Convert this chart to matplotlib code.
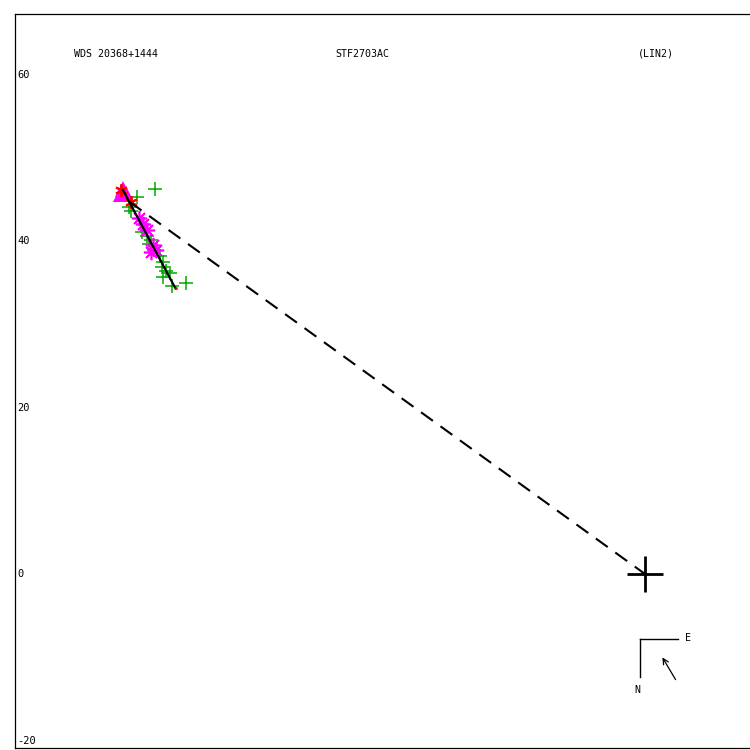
import matplotlib

matplotlib.use("Agg")
import matplotlib.pyplot as plt

plt.rcParams.update({"font.family": "DejaVu Sans Mono", "font.size": 7.2})

# measured positions (arcsec) relative to primary
green_x = [-58.9, -61.0, -62.0, -61.7, -60.4, -59.8, -59.3, -59.6, -59.0, -58.3,
           -57.9, -58.0, -57.5, -57.1, -57.9, -55.1, -56.8]
green_y = [46.3, 45.3, 44.1, 43.6, 41.1, 40.6, 40.1, 39.6, 38.9, 38.2,
           37.5, 36.9, 36.4, 36.2, 35.7, 35.0, 34.6]
star_x = [-60.8, -60.3, -59.8, -59.1, -58.7, -59.3]
star_y = [42.8, 42.0, 41.3, 39.5, 38.9, 38.7]
tri_x = [-62.7, -62.3, -62.9]
tri_y = [46.2, 45.6, 45.6]
red_x = [-62.9, -61.7]
red_y = [46.1, 44.7]
fit_x = [-62.7, -56.4]
fit_y = [46.1, 34.3]
now_x, now_y = -61.9, 44.7
yticks = [60, 40, 20, 0, -20]

fig = plt.figure(figsize=(7.5, 7.5), dpi=100)
ax = fig.add_axes([15 / 750, 2 / 750, 735 / 750, 734 / 750])
ax.set_xlim(-75.68, 12.61)
ax.set_ylim(-20.9, 67.27)
ax.spines["right"].set_visible(False)
for s in ax.spines.values():
    s.set_linewidth(0.9)
ax.set_xticks([])
ax.set_yticks([])

# tick labels drawn inside the frame
for v in yticks:
    ax.text(0.003, v, str(v), transform=ax.get_yaxis_transform(),
            ha="left", va="center", fontsize=7.5)

ax.plot(green_x, green_y, "+", color="#00a800", ms=10, mew=1.1, zorder=2)
ax.plot(star_x, star_y, ls="none", marker=(8, 2, 0), color="#ff00ff",
        ms=11, mew=1.2, zorder=3)
ax.plot(tri_x, tri_y, "^", color="#ff00ff", ms=11, mew=0, zorder=3)
ax.plot(red_x, red_y, ls="none", marker=(6, 2, 0), color="red",
        ms=9, mew=1.4, zorder=4)
ax.plot(fit_x, fit_y, "-", color="black", lw=1.6, zorder=5)
ax.plot(fit_x[-1:], fit_y[-1:], ".", color="red", ms=2, zorder=6)
ax.plot([now_x, 0], [now_y, 0], color="black", lw=1.5, dashes=(7, 4.5), zorder=5)
ax.plot([0], [0], "+", color="black", ms=26, mew=2, zorder=6)

# header
fig.text(74 / 750, 1 - 54 / 750, "WDS 20368+1444", ha="left", va="center")
fig.text(335 / 750, 1 - 54 / 750, "STF2703AC", ha="left", va="center")
fig.text(638 / 750, 1 - 54 / 750, "(LIN2)", ha="left", va="center")

# orientation compass
def fx(p):
    return p / 750

def fy(p):
    return 1 - p / 750

fig.add_artist(plt.Line2D([fx(640), fx(678)], [fy(639), fy(639)], color="black", lw=1))
fig.add_artist(plt.Line2D([fx(640), fx(640)], [fy(639), fy(677)], color="black", lw=1))
fig.text(fx(685), fy(638), "E", ha="left", va="center")
fig.text(fx(637), fy(690), "N", ha="center", va="center")
fig.add_artist(matplotlib.patches.FancyArrowPatch(
    (fx(677), fy(682)), (fx(661), fy(655)), transform=fig.transFigure,
    arrowstyle="->,head_length=4,head_width=2", color="black", lw=0.9))

fig.savefig("out.png", dpi=100)
